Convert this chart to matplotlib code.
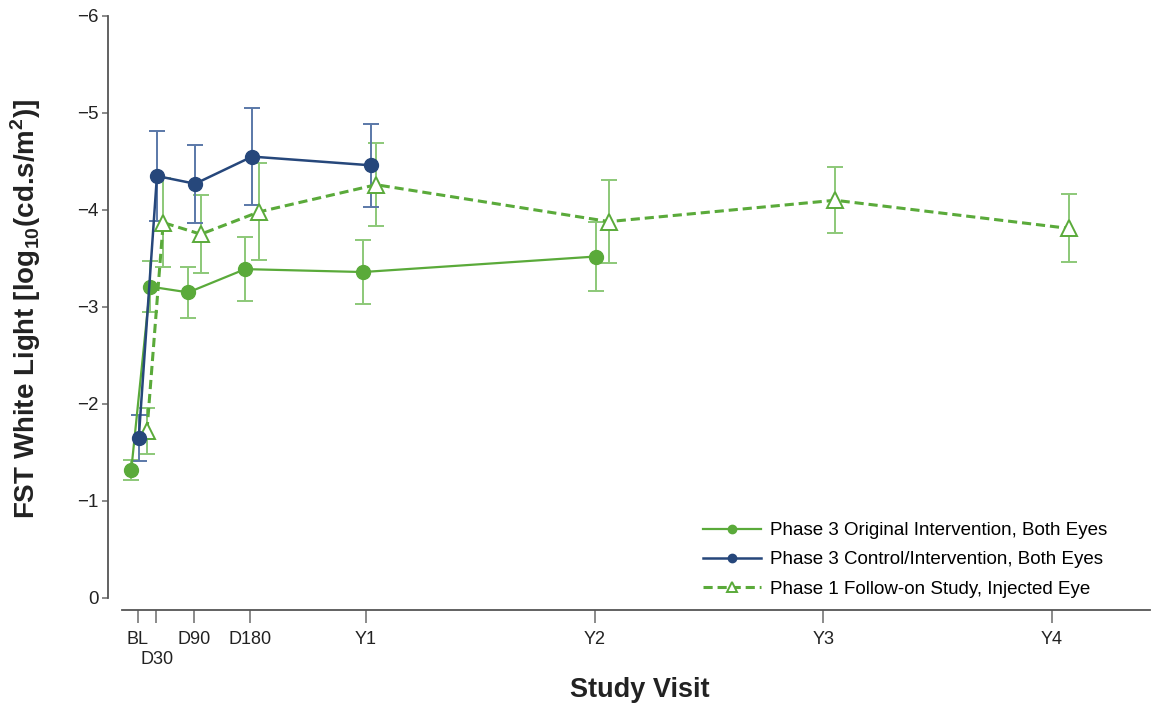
import matplotlib
matplotlib.use("Agg")
import matplotlib.pyplot as plt

# visit ticks (days since baseline)
tick_days = [0, 30, 90, 180, 365, 730, 1095, 1460]
tick_labels = ["BL", "", "D90", "D180", "Y1", "Y2", "Y3", "Y4"]
d30_label = "D30"

# Phase 3 original intervention (slightly offset to the left)
orig_x = [-10, 20, 81, 172, 360, 732]
orig_y = [-1.32, -3.21, -3.15, -3.39, -3.36, -3.52]
orig_err = [0.10, 0.26, 0.26, 0.33, 0.33, 0.36]

# Phase 3 control/intervention
ctrl_x = [2, 31, 92, 183, 373]
ctrl_y = [-1.65, -4.35, -4.27, -4.55, -4.46]
ctrl_err = [0.24, 0.46, 0.40, 0.50, 0.43]

# Phase 1 follow-on study
fol_x = [15, 41, 101, 194, 381, 753, 1114, 1487]
fol_y = [-1.72, -3.87, -3.75, -3.98, -4.26, -3.88, -4.10, -3.81]
fol_err = [0.24, 0.46, 0.40, 0.50, 0.43, 0.43, 0.34, 0.35]

GREEN = "#5aaa3a"
GREEN_ERR = "#8cc878"
BLUE = "#26477b"
BLUE_ERR = "#5a78a8"

plt.rcParams["font.family"] = ["Liberation Sans", "DejaVu Sans"]
plt.rcParams["mathtext.fontset"] = "custom"
plt.rcParams["mathtext.rm"] = "Liberation Sans"
plt.rcParams["mathtext.bf"] = "Liberation Sans:bold"

fig = plt.figure(figsize=(11.53, 7.04), dpi=100)
W, H = 1153, 704
ax = fig.add_axes([122 / W, 1 - 610 / H, (1150 - 122) / W, (610 - 14) / H])

ax.errorbar(orig_x, orig_y, yerr=orig_err, fmt="none", ecolor=GREEN_ERR,
            elinewidth=1.4, capsize=6, capthick=1.4, zorder=2)
ax.errorbar(fol_x, fol_y, yerr=fol_err, fmt="none", ecolor=GREEN_ERR,
            elinewidth=1.4, capsize=6, capthick=1.4, zorder=2)
ax.errorbar(ctrl_x, ctrl_y, yerr=ctrl_err, fmt="none", ecolor=BLUE_ERR,
            elinewidth=1.4, capsize=6, capthick=1.4, zorder=2)

ax.plot(orig_x, orig_y, color=GREEN, lw=1.6, marker="o", ms=10,
        label="Phase 3 Original Intervention, Both Eyes", zorder=3)
ax.plot(ctrl_x, ctrl_y, color=BLUE, lw=1.8, marker="o", ms=10,
        label="Phase 3 Control/Intervention, Both Eyes", zorder=4)
ax.plot(fol_x, fol_y, color=GREEN, lw=2.2, ls=(0, (3, 1.6)), marker="^", ms=11,
        mfc="white", mec=GREEN, mew=1.4,
        label="Phase 1 Follow-on Study, Injected Eye", zorder=3)

ax.set_xlim(-24.8, 1617)
ax.set_ylim(0.124, -6.02)

for s in ["top", "right"]:
    ax.spines[s].set_visible(False)
ax.spines["left"].set_position(("outward", 10))
ax.spines["left"].set_bounds(-6, 0)
for s in ["left", "bottom"]:
    ax.spines[s].set_color("#555555")
    ax.spines[s].set_linewidth(1.3)

ax.set_yticks([0, -1, -2, -3, -4, -5, -6])
ax.set_xticks(tick_days)
ax.set_xticklabels(tick_labels)
ax.tick_params(axis="x", length=9, width=1.2, color="#777777", pad=6,
               labelsize=13, labelcolor="#222222")
ax.tick_params(axis="y", length=4, width=1.2, color="#777777", pad=3,
               labelsize=13.5, labelcolor="#222222")
# staggered D30 label below the BL label
fig.text(157 / W, 1 - 660 / H, d30_label, fontsize=13, color="#222222",
         ha="center", va="center")

ax.set_ylabel(r"FST White Light [log$_{\mathbf{10}}$(cd.s/m$^{\mathbf{2}}$)]",
              fontsize=20, fontweight="bold", color="#222222")
ax.yaxis.set_label_coords(-0.077, 0.505)
fig.text(640 / W, 1 - 690 / H, "Study Visit", fontsize=19.5, fontweight="bold",
         color="#222222", ha="center", va="center")

ax.legend(loc="upper left", bbox_to_anchor=(703 / W, 1 - 522 / H),
          bbox_transform=fig.transFigure, frameon=False, fontsize=13.5,
          handlelength=3.1, handletextpad=0.45, labelspacing=0.65,
          borderpad=0, borderaxespad=0, markerscale=0.6)

fig.savefig("out.png", dpi=100)
